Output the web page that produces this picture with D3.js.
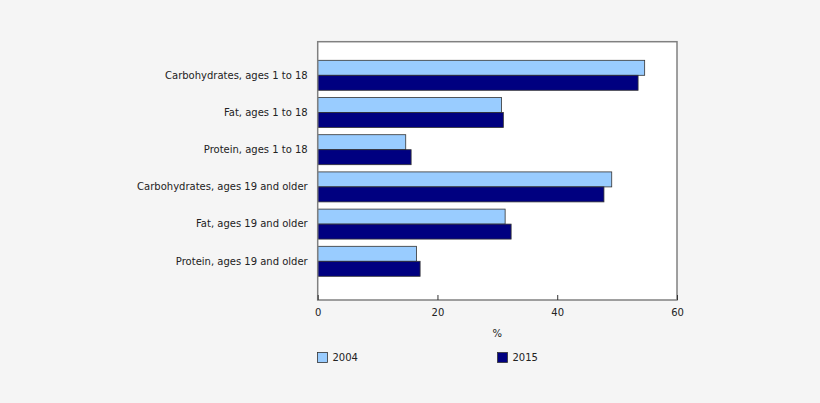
<!DOCTYPE html>
<html><head><meta charset="utf-8">
<script src="https://cdn.jsdelivr.net/npm/d3@7"></script>
<style>
html,body{margin:0;padding:0;background:#f5f5f5;}
svg{display:block;font-family:"DejaVu Sans",Verdana,sans-serif;}
</style></head>
<body><svg id="c" width="820" height="403"></svg>
<script>
const categories = ["Carbohydrates, ages 1 to 18","Fat, ages 1 to 18","Protein, ages 1 to 18","Carbohydrates, ages 19 and older","Fat, ages 19 and older","Protein, ages 19 and older"];
const series = ["2004","2015"];
const values2004 = [54.6, 30.7, 14.7, 49.1, 31.3, 16.5];
const values2015 = [53.5, 31.0, 15.6, 47.8, 32.3, 17.1];
const xTicks = [0, 20, 40, 60];
const xTitle = "%";
const colors = ["#99ccff", "#000080"];

const svg = d3.select("#c");
const L = 317.7, R = 677, T = 41.7, B = 300;
const x = d3.scaleLinear().domain([0, 60]).range([L, R]);
const y = d3.scaleBand().domain(categories).range([56.7, 279.9]).paddingInner(0.194).paddingOuter(0.097);
const ySub = d3.scaleBand().domain(series).range([0, y.bandwidth()]);

svg.append("rect").attr("x", L).attr("y", T).attr("width", R - L).attr("height", B - T)
  .attr("fill", "#fff");

const data = categories.map((c, i) => ({c, vals: [values2004[i], values2015[i]]}));
const g = svg.append("g");
data.forEach(d => {
  d.vals.forEach((v, j) => {
    g.append("rect")
      .attr("x", x(0))
      .attr("y", y(d.c) + ySub(series[j]))
      .attr("width", x(v) - x(0))
      .attr("height", ySub.bandwidth())
      .attr("fill", colors[j])
      .attr("stroke", "#333")
      .attr("stroke-width", 0.8);
  });
});

svg.append("rect").attr("x", L).attr("y", T).attr("width", R - L).attr("height", B - T)
  .attr("fill", "none").attr("stroke", "#808080").attr("stroke-width", 1.5);

// x axis
const xa = svg.append("g").attr("transform", `translate(0,${B})`)
  .call(d3.axisBottom(x).tickValues(xTicks).tickSize(-5).tickPadding(9).tickFormat(d3.format("d")));
xa.select(".domain").remove();
xa.selectAll("line").attr("stroke", "#333").attr("stroke-width", 1);
xa.selectAll("text").attr("font-size", 10).attr("fill", "#222").attr("font-family", "DejaVu Sans, Verdana, sans-serif");

// y labels
const ya = svg.append("g").attr("transform", `translate(${L},0)`)
  .call(d3.axisLeft(y).tickSize(0).tickPadding(10));
ya.select(".domain").remove();
ya.selectAll("text").attr("font-size", 10).attr("fill", "#222").attr("font-family", "DejaVu Sans, Verdana, sans-serif");

svg.append("text").attr("x", (L + R) / 2).attr("y", 337).attr("text-anchor", "middle")
  .attr("font-size", 10).attr("fill", "#222").text(xTitle);

// legend
const legX = [317.5, 497.5];
series.forEach((s, j) => {
  svg.append("rect").attr("x", legX[j]).attr("y", 352.5).attr("width", 10).attr("height", 10)
    .attr("fill", colors[j]).attr("stroke", "#333").attr("stroke-width", 0.8);
  svg.append("text").attr("x", legX[j] + 15).attr("y", 361).attr("font-size", 10)
    .attr("fill", "#222").text(s);
});
</script></body></html>
